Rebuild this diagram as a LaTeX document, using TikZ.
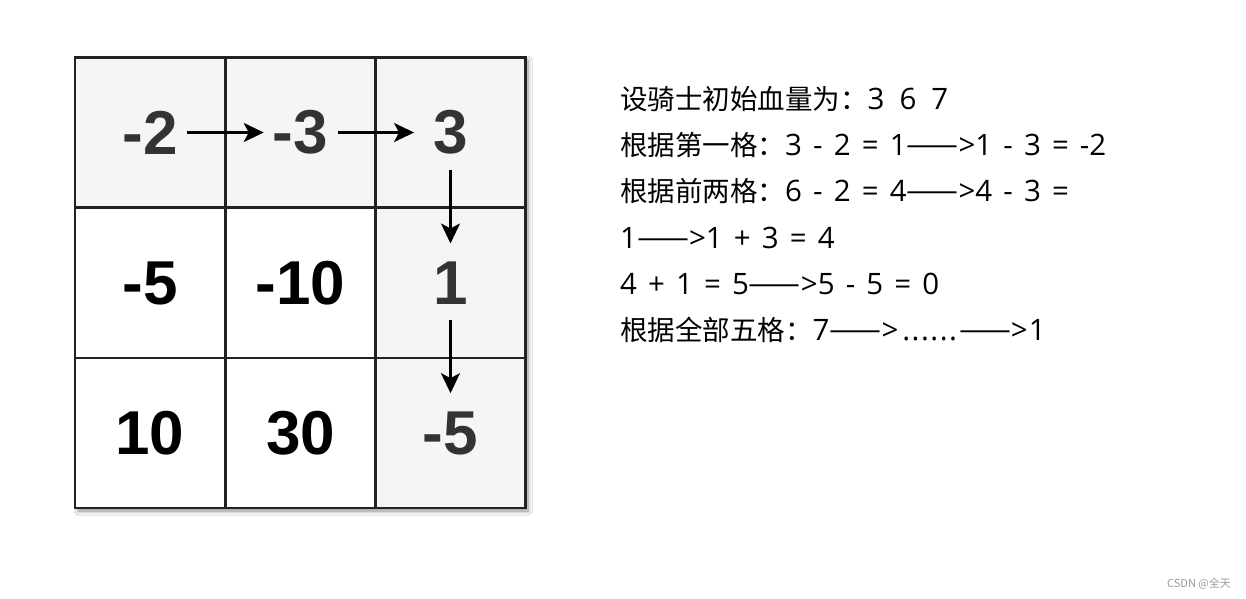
\documentclass[tikz,border=0pt]{standalone}
\usepackage{fontspec}
\setmainfont{Liberation Sans}
\newfontfamily\cjk{Noto Sans CJK SC}
\newfontfamily\latfont[WordSpace=1.45]{Open Sans}
\newcommand\lt[1]{{\latfont\fontsize{29.5}{29.5}\selectfont #1}}
\newcommand\cj[1]{{\cjk #1}}
\newcommand\dsh{{\cjk\fontsize{31}{31}\selectfont ——}}
\usetikzlibrary{arrows.meta,shadows.blur}
\definecolor{shadecell}{HTML}{F5F5F5}
\definecolor{darktext}{HTML}{333333}
\definecolor{gridline}{HTML}{222222}
\tikzset{
  x=1pt,y=-1pt,
  cellbox/.style={draw=gridline,line width=2.6pt,minimum width=150pt,minimum height=150pt,inner sep=0pt,outer sep=0pt},
  graycell/.style={cellbox,fill=shadecell},
  whitecell/.style={cellbox,fill=white},
  num/.style={font=\fontsize{62}{62}\selectfont\bfseries,inner sep=0pt},
  grnum/.style={num,text=darktext},
  wtnum/.style={num,text=black},
  flow/.style={line width=2.4pt,-{Stealth[length=20pt,width=19pt,inset=5pt]}},
  txt/.style={font=\fontsize{27.5}{27.5}\selectfont,anchor=base west,inner sep=0pt},
}
\begin{document}
\begin{tikzpicture}
\useasboundingbox[fill=white] (0,0) rectangle (1246,598);
% shadow
\node[minimum width=450pt,minimum height=451pt,inner sep=0pt,fill=white,
  blur shadow={shadow xshift=3pt,shadow yshift=-3pt,shadow blur steps=6,shadow blur radius=4pt,shadow opacity=45}] (frame) at (300,282.5) {};
% cells
\node[graycell]  (c00) at (150,132.5) {};
\node[graycell]  (c01) at (300.5,132.5) {};
\node[graycell]  (c02) at (450.5,132.5) {};
\node[whitecell] (c10) at (150,283) {};
\node[whitecell] (c11) at (300.5,283) {};
\node[graycell]  (c12) at (450.5,283) {};
\node[whitecell] (c20) at (150,433) {};
\node[whitecell] (c21) at (300.5,433) {};
\node[graycell]  (c22) at (450.5,433) {};
% numbers
\node[grnum] (n00) at (c00) {-2};
\node[grnum] (n01) at (c01) {-3};
\node[grnum] (n02) at (c02) {3};
\node[wtnum] (n10) at (c10) {-5};
\node[wtnum] (n11) at (c11) {-10};
\node[grnum] (n12) at (c12) {1};
\node[wtnum] (n20) at (c20) {10};
\node[wtnum] (n21) at (c21) {30};
\node[grnum] (n22) at (c22) {-5};
% arrows
\draw[flow,shorten <=9pt,shorten >=9pt] (n00.east) -- (n01.west);
\draw[flow,shorten <=10pt,shorten >=19pt] (n01.east) -- (n02.west);
\draw[flow,shorten <=15pt,shorten >=18pt] (n02.south) -- (n12.north);
\draw[flow,shorten <=15pt,shorten >=18pt] (n12.south) -- (n22.north);
% text
\node[txt] (l1) at (620,109.5) {\cj{设骑士初始血量为：}\lt{3\hspace{15pt}6\hspace{15pt}7}};
\node[txt] (l2) at (620,155.7) {\cj{根据第一格：}\lt{3 - 2 = 1}\dsh\lt{>1 - 3 = -2}};
\node[txt] (l3) at (620,201.9) {\cj{根据前两格：}\lt{6 - 2 = 4}\dsh\lt{>4 - 3 =}};
\node[txt] (l4) at (620,248.1) {\lt{1}\dsh\lt{>1 + 3 = 4}};
\node[txt] (l5) at (620,294.3) {\lt{4 + 1 = 5}\dsh\lt{>5 - 5 = 0}};
\node[txt] (l6) at (620,340.5) {\cj{根据全部五格：}\lt{7}\dsh\lt{>\kern4pt.\kern1.5pt.\kern1.5pt.\kern1.5pt.\kern1.5pt.\kern1.5pt.\kern2pt}\dsh\lt{>\kern1pt 1}};
% watermark
\node[font=\cjk\fontsize{11}{11}\selectfont,text=black!40,anchor=base east,inner sep=0pt] (wm) at (1231,587) {CSDN @全天};
\end{tikzpicture}
\end{document}
